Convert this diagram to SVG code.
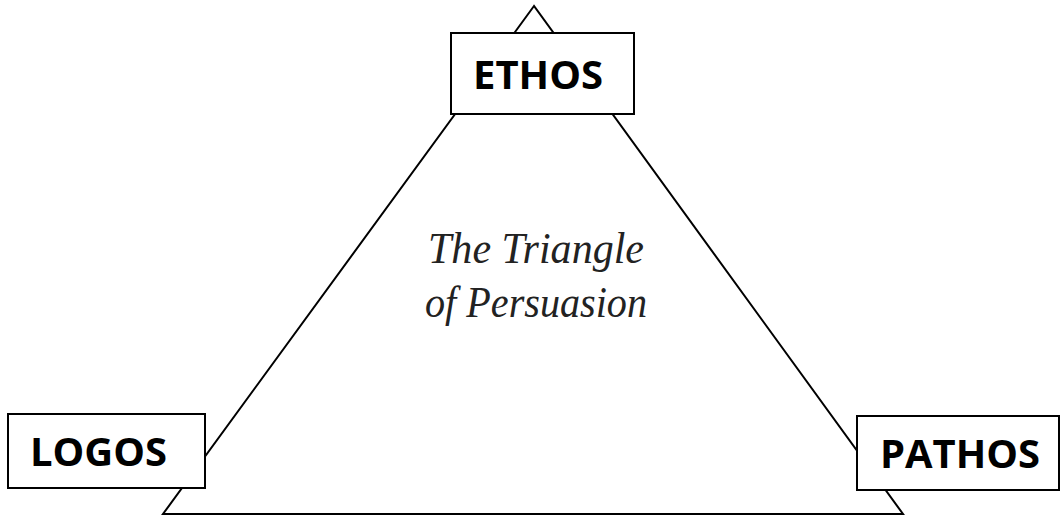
<svg xmlns="http://www.w3.org/2000/svg" width="1061" height="516" viewBox="0 0 1061 516">
  <style>
    .edge { fill: none; stroke: #000; stroke-width: 2; }
    .box { fill: #fff; stroke: #000; stroke-width: 2; }
    .label { font-family: "Open Sans", "Liberation Sans", Arial, sans-serif; font-weight: bold; font-size: 40px; fill: #000; }
    .title { font-family: "Liberation Serif", "DejaVu Serif", serif; font-style: italic; font-size: 44px; fill: #222; text-anchor: middle; }
  </style>
  <rect width="1061" height="516" fill="#fff"/>

  <!-- triangle connecting the three appeals -->
  <g id="connectors">
    <polygon class="edge" points="534,6 163,514 903,514"/>
  </g>

  <g id="title">
    <text class="title" x="536" y="263" textLength="216" lengthAdjust="spacingAndGlyphs">The Triangle</text>
    <text class="title" x="536" y="317" textLength="222" lengthAdjust="spacingAndGlyphs">of Persuasion</text>
  </g>

  <g id="ethos">
    <rect class="box" x="451" y="33" width="183" height="81"/>
    <text class="label" x="473" y="89" textLength="130" lengthAdjust="spacingAndGlyphs">ETHOS</text>
  </g>

  <g id="logos">
    <rect class="box" x="8" y="414" width="197" height="74"/>
    <text class="label" x="30" y="466" textLength="137" lengthAdjust="spacingAndGlyphs">LOGOS</text>
  </g>

  <g id="pathos">
    <rect class="box" x="857" y="416" width="202" height="74"/>
    <text class="label" x="880" y="468" textLength="160" lengthAdjust="spacingAndGlyphs">PATHOS</text>
  </g>
</svg>
